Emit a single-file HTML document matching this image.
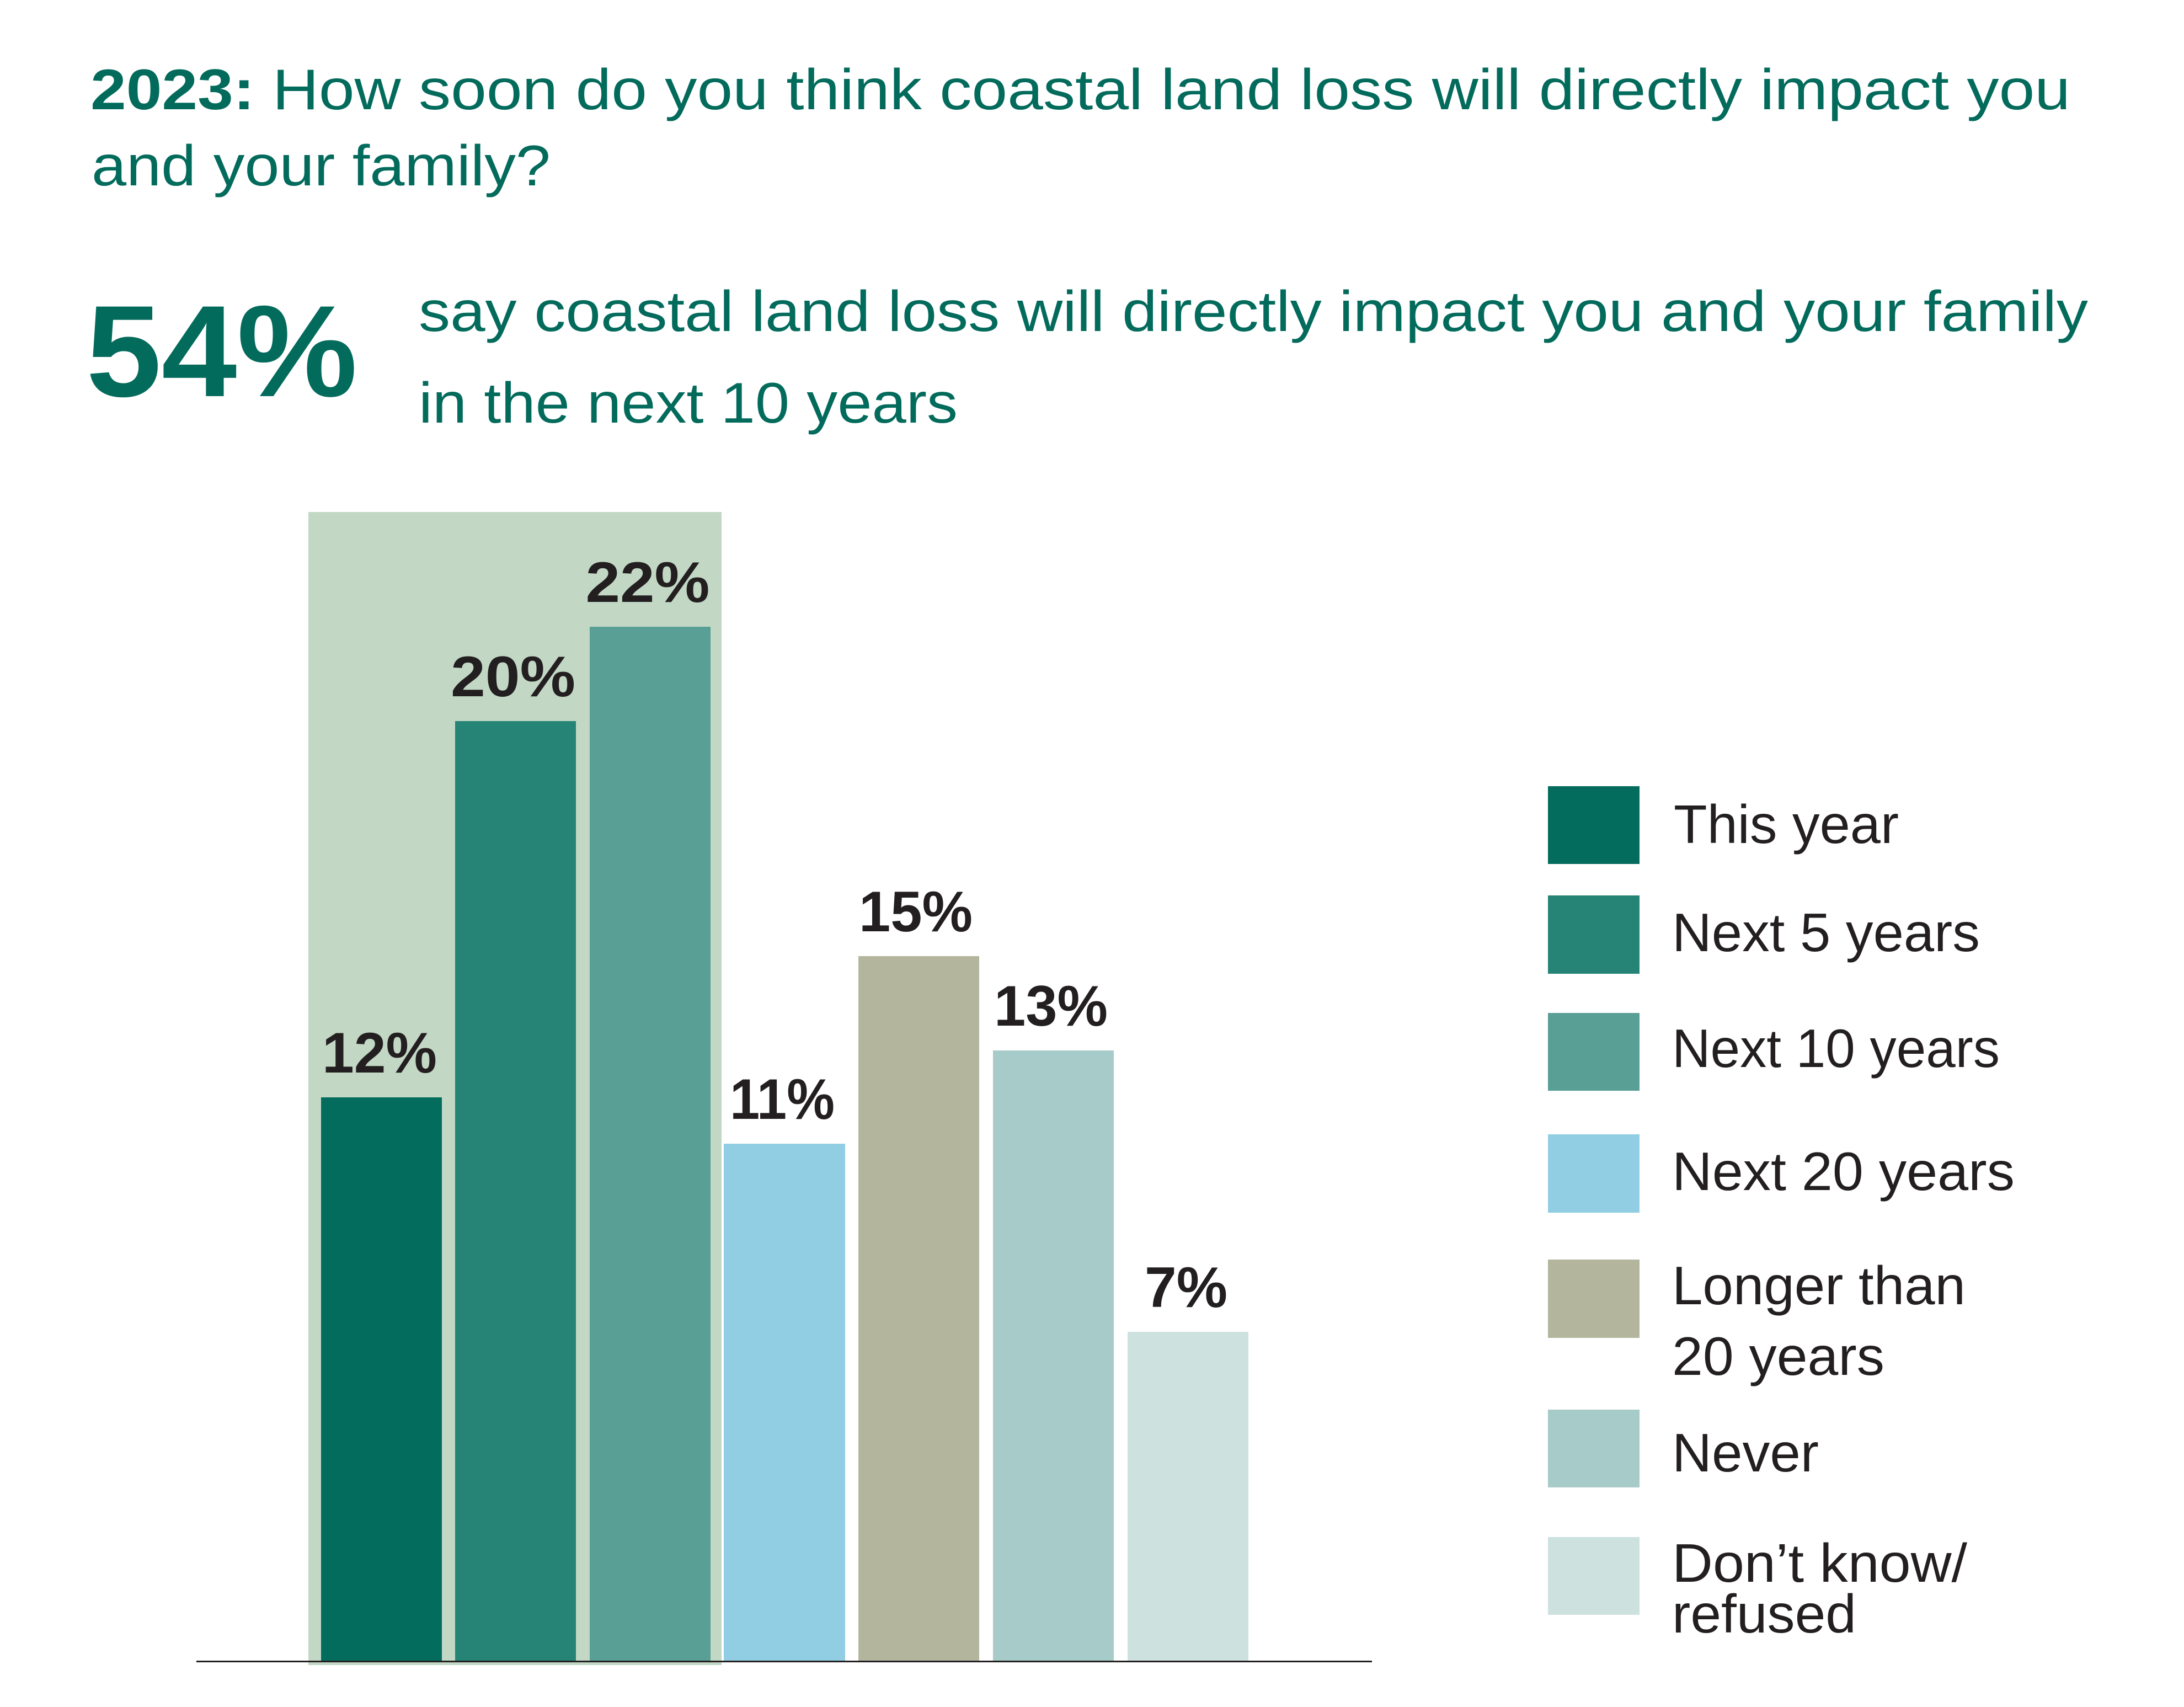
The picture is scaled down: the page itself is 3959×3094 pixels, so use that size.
<!DOCTYPE html>
<html><head><meta charset="utf-8"><style>html,body{margin:0;padding:0;background:#fff}svg{display:block}</style></head>
<body>
<svg width="3959" height="3094" viewBox="0 0 3959 3094" xmlns="http://www.w3.org/2000/svg">
<rect width="3959" height="3094" fill="#fff"/>
<g font-family="Liberation Sans, sans-serif" fill="#036b5c">
<text x="164" y="198" font-size="104" textLength="3589" lengthAdjust="spacingAndGlyphs"><tspan font-weight="bold">2023:</tspan> How soon do you think coastal land loss will directly impact you</text>
<text x="166" y="336" font-size="104" textLength="832" lengthAdjust="spacingAndGlyphs">and your family?</text>
<text x="156" y="718" font-size="236" font-weight="bold" textLength="492" lengthAdjust="spacingAndGlyphs">54%</text>
<text x="759" y="600" font-size="104" textLength="3026" lengthAdjust="spacingAndGlyphs">say coastal land loss will directly impact you and your family</text>
<text x="759" y="766" font-size="104" textLength="977" lengthAdjust="spacingAndGlyphs">in the next 10 years</text>
</g>
<rect x="559" y="928" width="749" height="2090" fill="#c2d8c5"/>
<rect x="582" y="1989" width="219" height="1023" fill="#036c5d"/>
<rect x="825" y="1307" width="219" height="1705" fill="#268476"/>
<rect x="1069" y="1136" width="219" height="1876" fill="#5a9f96"/>
<rect x="1312" y="2073" width="220" height="939" fill="#92cee3"/>
<rect x="1556" y="1733" width="219" height="1279" fill="#b3b69c"/>
<rect x="1800" y="1904" width="219" height="1108" fill="#a6cbc8"/>
<rect x="2044" y="2414" width="219" height="598" fill="#cde2df"/>
<rect x="356" y="3010" width="2131" height="3" fill="#231f20"/>
<g font-family="Liberation Sans, sans-serif" font-weight="bold" font-size="104" fill="#231f20" text-anchor="middle">
<text x="688" y="1944" textLength="208" lengthAdjust="spacingAndGlyphs">12%</text>
<text x="930" y="1262" textLength="226" lengthAdjust="spacingAndGlyphs">20%</text>
<text x="1174" y="1091" textLength="225" lengthAdjust="spacingAndGlyphs">22%</text>
<text x="1418" y="2028" textLength="190" lengthAdjust="spacingAndGlyphs">11%</text>
<text x="1660" y="1688" textLength="206" lengthAdjust="spacingAndGlyphs">15%</text>
<text x="1905" y="1859" textLength="206" lengthAdjust="spacingAndGlyphs">13%</text>
<text x="2150" y="2369" textLength="150" lengthAdjust="spacingAndGlyphs">7%</text>
</g>
<rect x="2806" y="1425" width="166" height="141" fill="#036c5d"/>
<rect x="2806" y="1623" width="166" height="142" fill="#268476"/>
<rect x="2806" y="1836" width="166" height="141" fill="#5a9f96"/>
<rect x="2806" y="2056" width="166" height="142" fill="#92cee3"/>
<rect x="2806" y="2283" width="166" height="142" fill="#b3b69c"/>
<rect x="2806" y="2555" width="166" height="141" fill="#a6cbc8"/>
<rect x="2806" y="2786" width="166" height="141" fill="#cde2df"/>
<g font-family="Liberation Sans, sans-serif" font-size="98" fill="#231f20">
<text x="3034" y="1528" textLength="408" lengthAdjust="spacingAndGlyphs">This year</text>
<text x="3031" y="1724" textLength="558" lengthAdjust="spacingAndGlyphs">Next 5 years</text>
<text x="3031" y="1934" textLength="594" lengthAdjust="spacingAndGlyphs">Next 10 years</text>
<text x="3031" y="2157" textLength="621" lengthAdjust="spacingAndGlyphs">Next 20 years</text>
<text x="3031" y="2364" textLength="532" lengthAdjust="spacingAndGlyphs">Longer than</text>
<text x="3031" y="2492" textLength="385" lengthAdjust="spacingAndGlyphs">20 years</text>
<text x="3031" y="2667" textLength="266" lengthAdjust="spacingAndGlyphs">Never</text>
<text x="3031" y="2867" textLength="535" lengthAdjust="spacingAndGlyphs">Don’t know/</text>
<text x="3031" y="2959" textLength="334" lengthAdjust="spacingAndGlyphs">refused</text>
</g>
</svg>
</body></html>
